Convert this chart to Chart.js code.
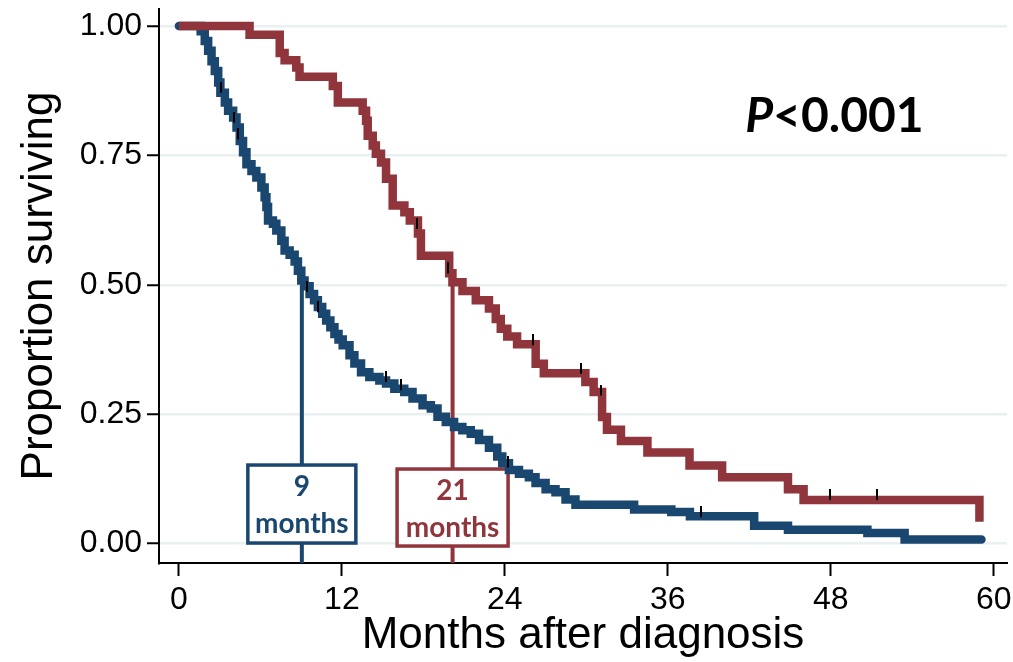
<!DOCTYPE html>
<html>
<head>
<meta charset="utf-8">
<script src="https://cdn.jsdelivr.net/npm/chart.js@4.4.1/dist/chart.umd.min.js"></script>
<style>
  html, body { margin: 0; padding: 0; background: #fff; }
  #wrap { width: 1013px; height: 662px; }
</style>
</head>
<body>
<div id="wrap"><canvas id="km" width="1013" height="662"></canvas></div>
<script>
// Kaplan-Meier steps: months after diagnosis / proportion surviving
const blueTimes = [0, 1.6, 1.9, 2.15, 2.4, 2.64, 2.89, 3.05, 3.38, 3.62, 3.99, 4.24, 4.48, 4.72, 4.97,
  5.34, 5.7, 6.07, 6.31, 6.44, 6.56, 6.92, 7.17, 7.54, 7.78, 8.15, 8.52, 8.76, 9.01, 9.25, 9.62,
  9.95, 10.23, 10.55, 10.84, 11.15, 11.45, 11.75, 12.06, 12.56, 12.92, 13.41, 14.02, 14.76, 15.25,
  15.86, 16.59, 17.2, 17.94, 18.55, 19.04, 19.65, 20.26, 20.87, 21.49, 22.1, 22.83, 23.44, 23.81,
  24.3, 25.04, 25.77, 26.26, 27.0, 27.73, 28.47, 29.2, 33.52, 36.26, 37.63, 42.36, 44.85, 50.7,
  53.44, 59.1];
const blueSurv = [1, 0.99, 0.971, 0.952, 0.932, 0.913, 0.891, 0.871, 0.852, 0.836, 0.823, 0.804, 0.778, 0.756, 0.733,
  0.72, 0.707, 0.688, 0.669, 0.65, 0.624, 0.618, 0.605, 0.585, 0.566, 0.558, 0.545, 0.527, 0.508, 0.497, 0.482,
  0.47, 0.457, 0.444, 0.431, 0.418, 0.405, 0.394, 0.383, 0.364, 0.348, 0.331, 0.322, 0.315, 0.309,
  0.299, 0.293, 0.28, 0.267, 0.261, 0.245, 0.235, 0.225, 0.219, 0.212, 0.2, 0.185, 0.168, 0.155,
  0.142, 0.135, 0.128, 0.117, 0.105, 0.099, 0.085, 0.075, 0.066, 0.0607, 0.0525, 0.0345, 0.0266, 0.0202,
  0.008, 0.008];

const redTimes = [0, 5.2, 7.42, 7.78, 8.64, 8.88, 11.33, 11.7, 13.53, 13.78, 13.9, 14.27, 14.5, 14.88,
  15.25, 15.74, 16.6, 17.0, 17.6, 17.82, 19.9, 20.14, 20.88, 21.86, 22.83, 23.33, 23.7, 24.18, 24.9,
  26.27, 26.87, 29.93, 30.54, 31.16, 31.52, 32.55, 34.5, 37.6, 40.0, 44.85, 46.0, 58.95];
const redSurv = [1, 0.983, 0.948, 0.934, 0.92, 0.902, 0.884, 0.852, 0.836, 0.817, 0.788, 0.769, 0.753, 0.736,
  0.705, 0.653, 0.64, 0.624, 0.599, 0.556, 0.522, 0.505, 0.488, 0.47, 0.454, 0.434, 0.415, 0.4, 0.385,
  0.3475, 0.329, 0.312, 0.293, 0.2445, 0.22, 0.198, 0.176, 0.151, 0.128, 0.105, 0.084, 0.042];

// censored observations (tick marks)
const blueCensorTimes = [3.08, 4.06, 4.36, 9.42, 10.27, 15.24, 16.34, 24.22, 38.48];
const blueCensorSurv = [0.871, 0.8135, 0.781, 0.486, 0.447, 0.312, 0.296, 0.147, 0.051];
const redCensorTimes = [17.56, 19.81, 26.07, 29.62, 31.06, 47.93, 51.37];
const redCensorSurv = [0.608, 0.522, 0.383, 0.328, 0.286, 0.084, 0.084];

// median survival
const medianMonths = [9.05, 20.15];
const medianLabels = ['9', '21'];
const medianUnit = 'months';

const xTicks = [0, 12, 24, 36, 48, 60];
const yTicks = [0, 0.25, 0.5, 0.75, 1];
const yTickLabels = ['0.00', '0.25', '0.50', '0.75', '1.00'];
const pLetter = 'P';
const pRest = '<0.001';

const NAVY = '#1a476f';
const MAROON = '#90353b';
const GRID = '#e9f0f2';
const AXIS_FONT = '"Liberation Sans", Arial, sans-serif';
const LABEL_FONT = 'Lato, "Open Sans", sans-serif';

const X_MIN = -1.47, X_MAX = 60.98;
const Y_MIN = -0.0376, Y_MAX = 1.0328;

const toXY = (ts, ss) => ts.map((t, i) => ({ x: t, y: ss[i] }));

// tick mark sitting on top of the line
function censorMark() {
  const c = document.createElement('canvas');
  c.width = 2;
  c.height = 22;
  const g = c.getContext('2d');
  g.fillStyle = '#000';
  g.fillRect(0, 0, 2, 11);
  return c;
}

const boxStyle = [
  { w: 108, h: 78, bottom: -0.5, color: NAVY },
  { w: 111, h: 77, bottom: 2.5, color: MAROON },
];

const annotate = {
  id: 'annotate',
  afterDatasetDraw(chart, args) {
    if (args.meta.label !== 'median-red') return;
    const ctx = chart.ctx;
    const xs = chart.scales.x;
    const ys = chart.scales.y;
    ctx.save();
    medianMonths.forEach((m, i) => {
      const s = boxStyle[i];
      const cx = xs.getPixelForValue(m);
      const bottom = ys.getPixelForValue(0) + s.bottom;
      const top = bottom - s.h;
      ctx.fillStyle = '#fff';
      ctx.fillRect(cx - s.w / 2, top, s.w, s.h);
      ctx.lineWidth = 3.5;
      ctx.strokeStyle = s.color;
      ctx.strokeRect(cx - s.w / 2, top, s.w, s.h);
      ctx.fillStyle = s.color;
      ctx.textAlign = 'center';
      ctx.textBaseline = 'middle';
      ctx.font = 'bold 28px ' + LABEL_FONT;
      ctx.fillText(medianLabels[i], cx, top + 22);
      ctx.fillText(medianUnit, cx, top + 59);
    });
    ctx.restore();
  },
  afterDraw(chart) {
    const ctx = chart.ctx;
    const x = chart.scales.x.getPixelForValue(41.7);
    const y = chart.scales.y.getPixelForValue(0.795);
    ctx.save();
    ctx.fillStyle = '#000';
    ctx.textAlign = 'left';
    ctx.textBaseline = 'alphabetic';
    ctx.font = 'italic bold 48px ' + LABEL_FONT;
    ctx.fillText(pLetter, x, y);
    const w = ctx.measureText(pLetter).width;
    ctx.font = 'bold 48px ' + LABEL_FONT;
    ctx.fillText(pRest, x + w, y);
    ctx.restore();
  },
};

function draw() {
  const mark = censorMark();
  new Chart(document.getElementById('km'), {
    type: 'line',
    data: {
      datasets: [
        {
          label: 'censor-blue', type: 'scatter', data: toXY(blueCensorTimes, blueCensorSurv),
          pointStyle: mark, pointRadius: 5, order: 0,
        },
        {
          label: 'censor-red', type: 'scatter', data: toXY(redCensorTimes, redCensorSurv),
          pointStyle: mark, pointRadius: 5, order: 0,
        },
        {
          label: 'red', data: toXY(redTimes, redSurv), borderColor: MAROON, borderWidth: 8.5,
          stepped: 'before', pointRadius: 0, borderCapStyle: 'butt', borderJoinStyle: 'miter', order: 1,
        },
        {
          label: 'blue', data: toXY(blueTimes, blueSurv), borderColor: NAVY, borderWidth: 8.5,
          stepped: 'before', pointRadius: 0, borderCapStyle: 'round', borderJoinStyle: 'miter', order: 2,
        },
        {
          label: 'median-red', data: [{ x: medianMonths[1], y: 0.5 }, { x: medianMonths[1], y: Y_MIN }],
          borderColor: MAROON, borderWidth: 4, pointRadius: 0, order: 3,
        },
        {
          label: 'median-blue', data: [{ x: medianMonths[0], y: 0.5 }, { x: medianMonths[0], y: Y_MIN }],
          borderColor: NAVY, borderWidth: 4, pointRadius: 0, order: 4,
        },
      ],
    },
    options: {
      responsive: false,
      animation: false,
      devicePixelRatio: 1,
      layout: { padding: { top: 9, right: 3, left: 0, bottom: 0 } },
      plugins: { legend: { display: false }, tooltip: { enabled: false } },
      scales: {
        x: {
          type: 'linear', min: X_MIN, max: X_MAX,
          afterBuildTicks: (s) => { s.ticks = xTicks.map((v) => ({ value: v })); },
          afterFit: (s) => { s.height = 99; s.paddingLeft = 0; s.paddingRight = 0; },
          grid: { drawOnChartArea: false, tickColor: '#000', tickWidth: 2, tickLength: 13 },
          border: { color: '#000', width: 2 },
          ticks: {
            color: '#000', padding: 5, maxRotation: 0, autoSkip: false,
            font: { family: AXIS_FONT, size: 32 },
          },
          title: {
            display: true, text: 'Months after diagnosis', color: '#000',
            font: { family: AXIS_FONT, size: 44 }, padding: 0,
          },
        },
        y: {
          type: 'linear', min: Y_MIN, max: Y_MAX,
          afterBuildTicks: (s) => { s.ticks = yTicks.map((v) => ({ value: v })); },
          afterFit: (s) => { s.width = 159; s.paddingTop = 0; s.paddingBottom = 0; },
          grid: { color: GRID, lineWidth: 2.5, tickColor: '#000', tickWidth: 2, tickLength: 12 },
          border: { color: '#000', width: 2 },
          ticks: {
            color: '#000', padding: 5, autoSkip: false,
            font: { family: AXIS_FONT, size: 32 },
            callback: (v, i) => yTickLabels[i],
          },
          title: {
            display: true, text: 'Proportion surviving', color: '#000',
            font: { family: AXIS_FONT, size: 44 }, padding: { top: 13, bottom: 0 },
          },
        },
      },
    },
    plugins: [annotate],
  });
}

Promise.all([
  document.fonts.load('bold 28px Lato'),
  document.fonts.load('italic bold 48px Lato'),
  document.fonts.load('32px "Liberation Sans"'),
]).then(draw, draw);
</script>
</body>
</html>
